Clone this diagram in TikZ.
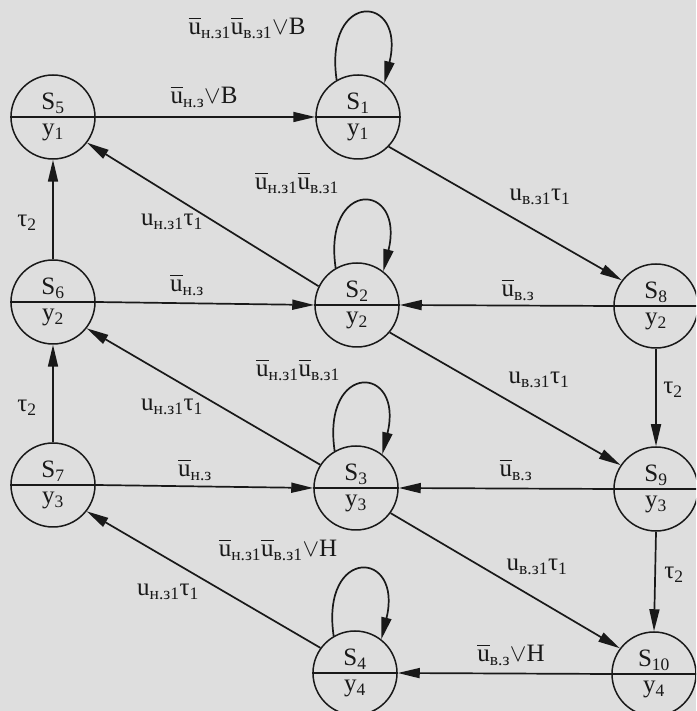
\documentclass[tikz,border=0pt]{standalone}
\usepackage{fontspec}
\setmainfont{Liberation Serif}
\usetikzlibrary{arrows.meta}
\newcommand\ubar{\leavevmode\rlap{\raisebox{0.6em}{\rule{0.5em}{0.065em}}}u}
\newcommand\sbs[1]{\textsubscript{#1}}
\tikzset{
  st/.style={circle, draw=black!90, line width=1.5pt, minimum size=84pt, inner sep=0pt},
  divider/.style={draw=black!90, line width=1.4pt},
  lbl/.style={font=\fontsize{25}{30}\selectfont, text=black!90, inner sep=1pt},
  edge/.style={draw=black!90, line width=1.7pt, -{Triangle[length=22pt,width=10pt]}},
}
\newcommand\stnode[4]{%
  \node[st] (#1) at (#2) {};
  \draw[divider] (#1.west) -- (#1.east);
  \node[lbl, anchor=base] (#1s) at ([yshift=7pt]#1.center) {S\sbs{#3}};
  \node[lbl, anchor=base] (#1y) at ([yshift=-19pt]#1.center) {y\sbs{#4}};
}
\newcommand\selfloop[1]{\draw[edge] (#1.120) .. controls +(-13,90) and +(22,90) .. (#1.52);}
\begin{document}
\begin{tikzpicture}[x=1pt,y=1pt]
\useasboundingbox (0,0) rectangle (696,711);
\clip (0,0) rectangle (696,711);
\fill[black!13] (0,0) rectangle (696,711);
% states
\stnode{S5}{53,594}{5}{1}
\stnode{S1}{358,594}{1}{1}
\stnode{S6}{53,409}{6}{2}
\stnode{S2}{357,406}{2}{2}
\stnode{S8}{656,405}{8}{2}
\stnode{S7}{53,226}{7}{3}
\stnode{S3}{356,223}{3}{3}
\stnode{S9}{656,222}{9}{3}
\stnode{S4}{355,38}{4}{4}
\stnode{S10}{654,37}{10}{4}
% horizontal edges
\draw[edge] (S5.east) -- (S1.west);
\draw[edge] (S6.east) -- (S2.west);
\draw[edge] (S8.west) -- (S2.east);
\draw[edge] (S7.east) -- (S3.west);
\draw[edge] (S9.west) -- (S3.east);
\draw[edge] (S10.west) -- (S4.east);
% vertical edges
\draw[edge] (S6.north) -- (S5.south);
\draw[edge] (S7.north) -- (S6.south);
\draw[edge] (S8.south) -- (S9.north);
\draw[edge] (S9.south) -- (S10.north);
% diagonal edges
\draw[edge] (S1.-44) -- (S8.143);
\draw[edge] (S2.154) -- (S5.-37);
\draw[edge] (S2.-40) -- (S9.146);
\draw[edge] (S3.147) -- (S6.-38);
\draw[edge] (S3.-36) -- (S10.143);
\draw[edge] (S4.144) -- (S7.-38);
% self loops
\selfloop{S1}
\selfloop{S2}
\selfloop{S3}
\selfloop{S4}
% labels
\node[lbl] (l1) at (247,683) {\ubar\sbs{н.з1}\ubar\sbs{в.з1}$\vee$В};
\node[lbl] (l2) at (204,614) {\ubar\sbs{н.з}$\vee$В};
\node[lbl] (l3) at (540,514) {u\sbs{в.з1}τ\sbs{1}};
\node[lbl] (l4) at (297,528) {\ubar\sbs{н.з1}\ubar\sbs{в.з1}};
\node[lbl] (l5) at (172,489) {u\sbs{н.з1}τ\sbs{1}};
\node[lbl] (l6) at (27,488) {τ\sbs{2}};
\node[lbl] (l7) at (187,426) {\ubar\sbs{н.з}};
\node[lbl] (l8) at (518,421) {\ubar\sbs{в.з}};
\node[lbl] (l9) at (539,331) {u\sbs{в.з1}τ\sbs{1}};
\node[lbl] (l10) at (673,321) {τ\sbs{2}};
\node[lbl] (l11) at (298,341) {\ubar\sbs{н.з1}\ubar\sbs{в.з1}};
\node[lbl] (l12) at (172,304) {u\sbs{н.з1}τ\sbs{1}};
\node[lbl] (l13) at (27,303) {τ\sbs{2}};
\node[lbl] (l14) at (195,241) {\ubar\sbs{н.з}};
\node[lbl] (l15) at (516,241) {\ubar\sbs{в.з}};
\node[lbl] (l16) at (278,161) {\ubar\sbs{н.з1}\ubar\sbs{в.з1}$\vee$Н};
\node[lbl] (l17) at (537,144) {u\sbs{в.з1}τ\sbs{1}};
\node[lbl] (l18) at (674,136) {τ\sbs{2}};
\node[lbl] (l19) at (168,119) {u\sbs{н.з1}τ\sbs{1}};
\node[lbl] (l20) at (511,56) {\ubar\sbs{в.з}$\vee$Н};
\end{tikzpicture}
\end{document}
